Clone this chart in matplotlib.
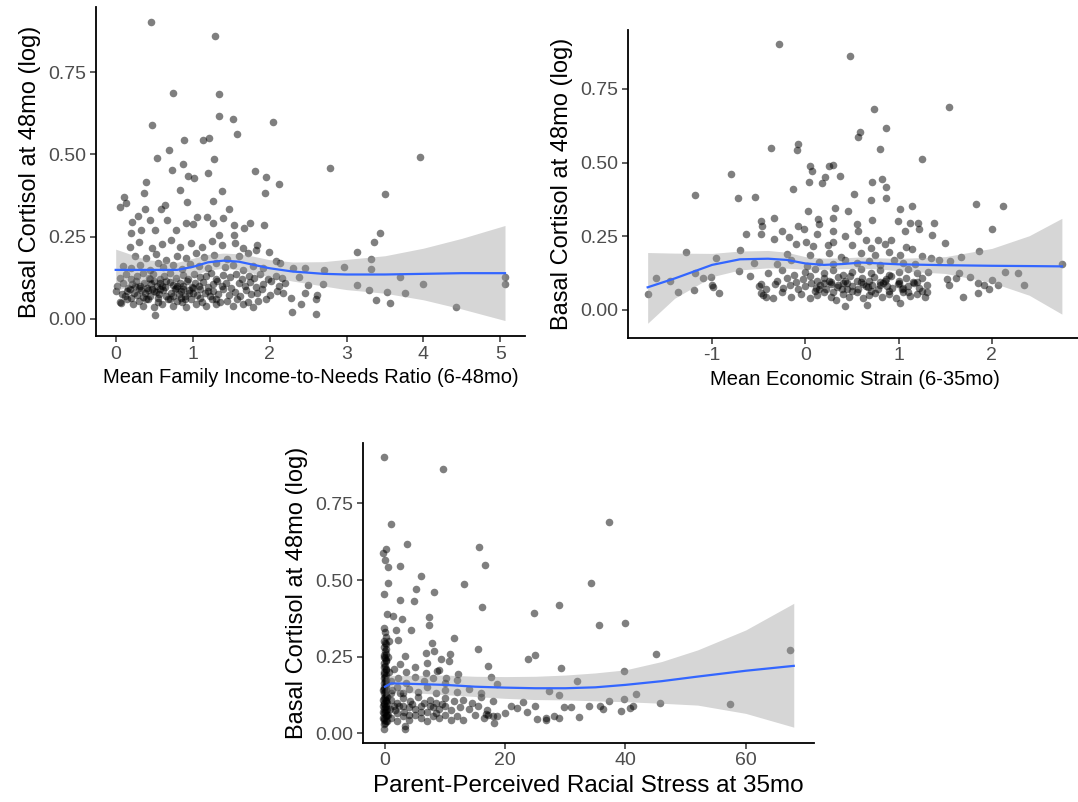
import matplotlib
matplotlib.use("Agg")
import matplotlib.pyplot as plt
import numpy as np

plt.rcParams["font.family"] = ["Liberation Sans", "DejaVu Sans"]
plt.rcParams["axes.unicode_minus"] = False

YLABEL = "Basal Cortisol at 48mo (log)"
Y_TICKS = [0.0, 0.25, 0.5, 0.75]
Y_TICK_LABELS = ["0.00", "0.25", "0.50", "0.75"]

# ---- panel 1: income-to-needs ----
income_label = "Mean Family Income-to-Needs Ratio (6-48mo)"
income_ticks = [0, 1, 2, 3, 4, 5]
income_pts = [
    (0.46, 0.902), (1.29, 0.861), (0.75, 0.688), (1.34, 0.683), (1.34, 0.618), (1.52, 0.607),
    (2.04, 0.600), (0.47, 0.588), (1.58, 0.563), (1.21, 0.550), (1.13, 0.543), (0.89, 0.544),
    (3.95, 0.491), (1.28, 0.485), (0.54, 0.489), (0.69, 0.513), (0.88, 0.470), (0.73, 0.454),
    (1.20, 0.445), (0.94, 0.433), (1.02, 0.429), (1.81, 0.450), (1.95, 0.432), (2.79, 0.460),
    (2.12, 0.411), (0.39, 0.415), (0.37, 0.382), (0.83, 0.393), (1.38, 0.389), (1.94, 0.383),
    (3.50, 0.379), (0.11, 0.370), (0.13, 0.353), (0.06, 0.341), (0.93, 0.354), (1.26, 0.358),
    (0.38, 0.334), (0.64, 0.345), (0.59, 0.333), (1.47, 0.335), (0.29, 0.312), (1.06, 0.310),
    (1.19, 0.310), (0.67, 0.301), (0.45, 0.300), (0.21, 0.294), (0.91, 0.291), (1.00, 0.288),
    (1.26, 0.293), (1.39, 0.306), (1.54, 0.284), (1.74, 0.292), (1.93, 0.284), (1.67, 0.275),
    (3.44, 0.261), (0.20, 0.260), (0.33, 0.271), (0.51, 0.271), (0.79, 0.270), (1.34, 0.255),
    (1.54, 0.256), (3.36, 0.234), (3.13, 0.203), (3.32, 0.183), (3.32, 0.153), (2.97, 0.159),
    (2.71, 0.150), (3.70, 0.127), (3.13, 0.104), (2.70, 0.106), (4.00, 0.106), (3.29, 0.088),
    (3.53, 0.082), (3.76, 0.079), (3.38, 0.057), (3.56, 0.048), (4.42, 0.035), (5.06, 0.126),
    (5.06, 0.107), (2.46, 0.156), (2.31, 0.156), (2.38, 0.128), (2.50, 0.103), (2.46, 0.080),
    (2.28, 0.065), (2.41, 0.046), (2.29, 0.022), (2.60, 0.014), (2.62, 0.073), (2.60, 0.059),
    (0.51, 0.011), (0.07, 0.049), (1.99, 0.202), (1.84, 0.224), (1.83, 0.209), (2.08, 0.176),
    (2.14, 0.169),
    (0.05, 0.05), (0.15, 0.06), (0.22, 0.045), (0.30, 0.055), (0.36, 0.04), (0.42, 0.06),
    (0.50, 0.035), (0.55, 0.05), (0.60, 0.045), (0.68, 0.06), (0.74, 0.04), (0.80, 0.055),
    (0.86, 0.05), (0.92, 0.035), (0.98, 0.06), (1.05, 0.045), (1.12, 0.05), (1.18, 0.04),
    (1.25, 0.06), (1.30, 0.045), (1.36, 0.05), (1.45, 0.055), (1.52, 0.04), (1.58, 0.06),
    (1.65, 0.045), (1.72, 0.05), (1.78, 0.035), (1.85, 0.055), (1.95, 0.06),
    (0.00, 0.085), (0.08, 0.075), (0.12, 0.07), (0.18, 0.09), (0.24, 0.08), (0.28, 0.072),
    (0.33, 0.088), (0.38, 0.078), (0.44, 0.07), (0.47, 0.09), (0.52, 0.082), (0.56, 0.075),
    (0.62, 0.088), (0.66, 0.07), (0.72, 0.08), (0.77, 0.09), (0.82, 0.075), (0.85, 0.085),
    (0.90, 0.07), (0.95, 0.088), (1.00, 0.078), (1.06, 0.072), (1.10, 0.09), (1.16, 0.08),
    (1.22, 0.07), (1.27, 0.085), (1.33, 0.077), (1.40, 0.09), (1.47, 0.072), (1.55, 0.082),
    (1.62, 0.07), (1.70, 0.088), (1.76, 0.075), (1.84, 0.08), (1.90, 0.09), (2.00, 0.072),
    (2.10, 0.085), (2.18, 0.078),
    (0.02, 0.10), (0.10, 0.11), (0.16, 0.095), (0.21, 0.105), (0.27, 0.115), (0.31, 0.10),
    (0.37, 0.11), (0.41, 0.095), (0.46, 0.105), (0.50, 0.115), (0.54, 0.10), (0.58, 0.108),
    (0.64, 0.097), (0.70, 0.112), (0.75, 0.102), (0.79, 0.095), (0.84, 0.11), (0.88, 0.10),
    (0.93, 0.115), (0.99, 0.098), (1.03, 0.108), (1.08, 0.10), (1.14, 0.112), (1.20, 0.096),
    (1.26, 0.105), (1.32, 0.115), (1.38, 0.10), (1.44, 0.108), (1.50, 0.095), (1.60, 0.11),
    (1.68, 0.10), (1.74, 0.112), (1.82, 0.098), (1.92, 0.106), (2.02, 0.114), (2.12, 0.10),
    (2.20, 0.108),
    (0.05, 0.125), (0.13, 0.135), (0.20, 0.12), (0.28, 0.13), (0.35, 0.14), (0.43, 0.125),
    (0.49, 0.135), (0.57, 0.12), (0.63, 0.13), (0.71, 0.14), (0.78, 0.125), (0.87, 0.132),
    (0.94, 0.12), (1.02, 0.138), (1.10, 0.126), (1.17, 0.13), (1.24, 0.14), (1.31, 0.122),
    (1.40, 0.134), (1.48, 0.126), (1.56, 0.138), (1.64, 0.12), (1.73, 0.13), (1.80, 0.125),
    (1.88, 0.136), (1.98, 0.12), (2.08, 0.13), (2.16, 0.124),
    (0.10, 0.16), (0.20, 0.155), (0.32, 0.165), (0.44, 0.15), (0.55, 0.17), (0.62, 0.158),
    (0.75, 0.165), (0.86, 0.152), (0.97, 0.168), (1.08, 0.16), (1.20, 0.155), (1.30, 0.17),
    (1.42, 0.158), (1.53, 0.165), (1.65, 0.15), (1.78, 0.162), (1.92, 0.156),
    (0.25, 0.19), (0.40, 0.185), (0.53, 0.198), (0.65, 0.18), (0.80, 0.192), (0.92, 0.185),
    (1.05, 0.20), (1.15, 0.188), (1.28, 0.195), (1.45, 0.182), (1.60, 0.19), (1.72, 0.20),
    (0.18, 0.22), (0.30, 0.235), (0.47, 0.215), (0.60, 0.228), (0.72, 0.24), (0.84, 0.22),
    (0.98, 0.232), (1.12, 0.218), (1.25, 0.236), (1.38, 0.225), (1.55, 0.23), (1.66, 0.215),
    (0.20, 0.065), (0.30, 0.095), (0.40, 0.062), (0.50, 0.085), (0.55, 0.065), (0.60, 0.10),
    (0.70, 0.06), (0.80, 0.10), (0.90, 0.062), (0.95, 0.08), (0.45, 0.12), (0.25, 0.10),
    (0.35, 0.068), (0.65, 0.115), (0.85, 0.065), (1.00, 0.095), (1.10, 0.065), (1.20, 0.085),
    (1.30, 0.062), (0.15, 0.085), (0.42, 0.088), (0.58, 0.09), (0.75, 0.07), (0.88, 0.092),
]
income_fit_x = [0.0, 0.4, 0.8, 1.0, 1.2, 1.4, 1.6, 1.8, 2.0, 2.3, 2.7, 3.0, 3.5, 4.0, 4.5, 5.06]
income_fit_y = [0.149, 0.149, 0.149, 0.158, 0.172, 0.177, 0.174, 0.164, 0.154, 0.144, 0.137, 0.135, 0.135, 0.137, 0.139, 0.139]
income_fit_lo = [0.085, 0.118, 0.126, 0.132, 0.148, 0.154, 0.150, 0.138, 0.128, 0.115, 0.100, 0.089, 0.078, 0.058, 0.030, -0.005]
income_fit_hi = [0.212, 0.180, 0.172, 0.184, 0.196, 0.200, 0.198, 0.190, 0.180, 0.173, 0.174, 0.181, 0.192, 0.215, 0.245, 0.284]

# ---- panel 2: economic strain ----
strain_label = "Mean Economic Strain (6-35mo)"
strain_ticks = [-1, 0, 1, 2]
strain_pts = [
    (-0.28, 0.904), (0.48, 0.862), (0.74, 0.683), (1.54, 0.689), (0.86, 0.619), (0.59, 0.605),
    (0.56, 0.588), (-0.08, 0.564), (-0.09, 0.544), (-0.37, 0.551), (0.80, 0.545), (1.25, 0.514),
    (0.05, 0.488), (0.07, 0.472), (0.25, 0.490), (0.30, 0.491), (-0.80, 0.460), (0.37, 0.456),
    (0.21, 0.451), (0.18, 0.431), (0.04, 0.433), (0.71, 0.434), (0.82, 0.445), (0.86, 0.416),
    (-0.13, 0.412), (-1.18, 0.391), (-0.54, 0.383), (-0.72, 0.379), (0.52, 0.394), (0.86, 0.381),
    (0.70, 0.372), (1.83, 0.360), (2.12, 0.354), (1.14, 0.353), (1.01, 0.342), (0.32, 0.345),
    (0.46, 0.335), (0.03, 0.336), (-0.34, 0.311), (-0.47, 0.303), (0.30, 0.313), (0.14, 0.310),
    (0.72, 0.307), (0.99, 0.303), (1.12, 0.296), (1.38, 0.294), (1.21, 0.294), (0.55, 0.291),
    (-0.46, 0.285), (0.15, 0.292), (-0.08, 0.284), (-0.01, 0.274), (1.22, 0.275), (2.00, 0.276),
    (1.07, 0.268), (0.30, 0.268), (-0.25, 0.268), (-0.64, 0.258), (-0.47, 0.257), (0.13, 0.257),
    (1.36, 0.255), (0.43, 0.252), (-0.18, 0.249), (0.56, 0.269), (-0.34, 0.242), (0.78, 0.238),
    (0.92, 0.238), (1.50, 0.227), (0.01, 0.231), (0.24, 0.222), (0.70, 0.210), (1.14, 0.206),
    (-1.28, 0.198), (1.86, 0.201), (-0.70, 0.204), (1.67, 0.180), (-0.96, 0.175), (1.35, 0.178),
    (1.55, 0.167), (1.43, 0.170), (2.14, 0.130), (2.28, 0.127), (2.75, 0.156), (2.00, 0.102),
    (1.92, 0.085), (2.34, 0.085), (2.06, 0.085), (1.85, 0.090), (1.97, 0.071), (1.85, 0.059),
    (1.69, 0.045), (1.54, 0.085), (1.52, 0.104), (1.65, 0.127), (1.76, 0.111), (1.61, 0.107),
    (-1.60, 0.107), (-1.69, 0.054), (-1.45, 0.098), (-1.36, 0.062), (-1.19, 0.068), (-1.18, 0.124),
    (-1.10, 0.107), (-1.01, 0.111), (-1.00, 0.085), (-0.93, 0.057), (-0.99, 0.079), (-0.71, 0.132),
    (-0.59, 0.115), (-0.48, 0.088), (-0.48, 0.057), (-0.42, 0.043), (0.66, 0.016), (0.42, 0.014),
    (1.01, 0.025),
    (-0.45, 0.05), (-0.35, 0.04), (-0.25, 0.06), (-0.15, 0.045), (-0.05, 0.055), (0.05, 0.04),
    (0.12, 0.05), (0.20, 0.06), (0.27, 0.045), (0.33, 0.035), (0.40, 0.055), (0.47, 0.045),
    (0.55, 0.06), (0.62, 0.04), (0.68, 0.05), (0.75, 0.058), (0.82, 0.045), (0.90, 0.055),
    (0.97, 0.04), (1.05, 0.06), (1.12, 0.048), (1.20, 0.055), (1.28, 0.045), (1.30, 0.06),
    (-0.50, 0.08), (-0.42, 0.072), (-0.33, 0.088), (-0.24, 0.075), (-0.16, 0.085), (-0.08, 0.07),
    (0.00, 0.082), (0.06, 0.09), (0.11, 0.075), (0.16, 0.085), (0.22, 0.07), (0.28, 0.088),
    (0.34, 0.078), (0.39, 0.07), (0.45, 0.09), (0.50, 0.08), (0.56, 0.072), (0.62, 0.088),
    (0.67, 0.078), (0.72, 0.085), (0.78, 0.07), (0.83, 0.09), (0.88, 0.08), (0.93, 0.075),
    (0.99, 0.088), (1.04, 0.07), (1.10, 0.082), (1.16, 0.09), (1.22, 0.075), (1.30, 0.085),
    (-0.30, 0.10), (-0.20, 0.11), (-0.10, 0.095), (-0.02, 0.105), (0.05, 0.115), (0.13, 0.10),
    (0.20, 0.108), (0.27, 0.095), (0.35, 0.112), (0.42, 0.10), (0.48, 0.115), (0.55, 0.098),
    (0.61, 0.108), (0.68, 0.10), (0.74, 0.112), (0.80, 0.095), (0.86, 0.105), (0.92, 0.115),
    (1.00, 0.10), (1.08, 0.108), (1.15, 0.096), (1.25, 0.11),
    (-0.40, 0.125), (-0.25, 0.135), (-0.12, 0.12), (0.00, 0.13), (0.10, 0.14), (0.20, 0.125),
    (0.30, 0.135), (0.40, 0.12), (0.50, 0.13), (0.60, 0.14), (0.70, 0.125), (0.80, 0.135),
    (0.90, 0.12), (1.00, 0.13), (1.10, 0.138), (1.20, 0.125), (1.32, 0.13),
    (-0.55, 0.16), (-0.30, 0.155), (-0.15, 0.168), (0.02, 0.15), (0.15, 0.162), (0.30, 0.155),
    (0.42, 0.17), (0.55, 0.158), (0.68, 0.165), (0.80, 0.152), (0.95, 0.168), (1.05, 0.16),
    (1.18, 0.155),
    (-0.20, 0.19), (0.05, 0.185), (0.25, 0.195), (0.38, 0.18), (0.60, 0.192), (0.75, 0.185),
    (0.90, 0.198), (1.02, 0.188), (1.25, 0.182),
    (-0.10, 0.225), (0.08, 0.218), (0.30, 0.232), (0.50, 0.22), (0.65, 0.236), (0.85, 0.225),
    (1.08, 0.215),
    (0.10, 0.065), (0.20, 0.09), (0.30, 0.062), (0.40, 0.09), (0.50, 0.065), (0.60, 0.095),
    (0.70, 0.065), (0.80, 0.085), (0.90, 0.065), (1.00, 0.09), (1.10, 0.062), (1.20, 0.095),
    (0.25, 0.10), (0.45, 0.072), (0.65, 0.08), (0.85, 0.10), (1.05, 0.075), (1.25, 0.065),
    (0.15, 0.07), (0.35, 0.085),
]
strain_fit_x = [-1.69, -1.4, -1.0, -0.7, -0.4, -0.2, 0.0, 0.2, 0.4, 0.6, 0.8, 1.0, 1.5, 2.0, 2.4, 2.75]
strain_fit_y = [0.077, 0.107, 0.153, 0.172, 0.174, 0.170, 0.158, 0.153, 0.156, 0.161, 0.158, 0.155, 0.152, 0.150, 0.149, 0.148]
strain_fit_lo = [-0.045, 0.040, 0.113, 0.136, 0.143, 0.142, 0.138, 0.138, 0.140, 0.142, 0.139, 0.133, 0.124, 0.093, 0.050, -0.014]
strain_fit_hi = [0.195, 0.193, 0.192, 0.200, 0.202, 0.196, 0.181, 0.176, 0.177, 0.180, 0.177, 0.175, 0.181, 0.209, 0.252, 0.311]

# ---- panel 3: racial stress ----
stress_label = "Parent-Perceived Racial Stress at 35mo"
stress_ticks = [0, 20, 40, 60]
stress_pts = [
    (-0.1, 0.902), (9.7, 0.861), (0.95, 0.684), (37.3, 0.688), (3.7, 0.618), (15.7, 0.607),
    (0.2, 0.600), (-0.3, 0.587), (0.0, 0.564), (0.5, 0.543), (2.5, 0.545), (16.7, 0.550),
    (6.0, 0.513), (13.2, 0.487), (34.2, 0.491), (0.5, 0.489), (5.2, 0.472), (-0.1, 0.455),
    (8.1, 0.461), (2.5, 0.434), (4.8, 0.430), (16.2, 0.413), (29.0, 0.417), (24.8, 0.393),
    (0.3, 0.389), (1.4, 0.384), (7.3, 0.379), (2.8, 0.372), (40.0, 0.359), (35.6, 0.354),
    (7.4, 0.353), (4.4, 0.336), (1.9, 0.337), (11.4, 0.312), (2.2, 0.305), (7.8, 0.293),
    (15.4, 0.276), (67.3, 0.273), (6.9, 0.263), (8.2, 0.268), (25.0, 0.257), (10.8, 0.259),
    (45.0, 0.260), (3.3, 0.252), (23.8, 0.242), (9.3, 0.241), (10.7, 0.236), (17.2, 0.221),
    (29.3, 0.213), (39.7, 0.204), (8.7, 0.203), (6.8, 0.196), (12.2, 0.192), (17.6, 0.183),
    (31.9, 0.172), (10.1, 0.182), (18.7, 0.160), (41.8, 0.127), (27.2, 0.138), (29.0, 0.126),
    (45.7, 0.100), (39.7, 0.112), (37.2, 0.104), (57.4, 0.096), (33.9, 0.090), (35.7, 0.090),
    (36.3, 0.080), (41.3, 0.090), (40.8, 0.084), (39.3, 0.074), (31.0, 0.086), (29.7, 0.086),
    (32.2, 0.052), (28.1, 0.057), (28.9, 0.049), (25.3, 0.046), (26.7, 0.051), (26.8, 0.043),
    (25.0, 0.090), (23.0, 0.101), (23.6, 0.071), (22.0, 0.084), (21.0, 0.090), (19.9, 0.066),
    (18.2, 0.035), (18.7, 0.057), (16.8, 0.063), (17.1, 0.060), (-0.2, 0.013), (3.4, 0.023),
    (3.4, 0.015),
    (-0.2, 0.03), (0.1, 0.04), (-0.1, 0.05), (0.2, 0.06), (0.0, 0.07), (-0.2, 0.08), (0.1, 0.09),
    (-0.1, 0.10), (0.2, 0.11), (0.0, 0.12), (-0.2, 0.13), (0.1, 0.14), (-0.1, 0.15), (0.2, 0.16),
    (0.0, 0.17), (-0.2, 0.18), (0.1, 0.19), (-0.1, 0.20), (0.2, 0.21), (0.0, 0.22), (-0.2, 0.23),
    (0.1, 0.24), (-0.1, 0.25), (0.2, 0.26), (0.0, 0.27), (-0.2, 0.28), (0.1, 0.29), (-0.1, 0.30),
    (0.2, 0.315), (0.0, 0.33), (-0.1, 0.345),
    (0.0, 0.035), (-0.1, 0.045), (0.1, 0.055), (-0.2, 0.065), (0.2, 0.075), (0.0, 0.085),
    (-0.1, 0.095), (0.1, 0.105), (-0.2, 0.115), (0.2, 0.125), (0.0, 0.135), (-0.1, 0.145),
    (0.1, 0.155), (-0.2, 0.165), (0.2, 0.175), (0.0, 0.185), (-0.1, 0.195), (0.1, 0.205),
    (-0.2, 0.215), (0.2, 0.235), (0.0, 0.245), (-0.1, 0.255), (0.1, 0.275), (0.0, 0.295),
    (0.3, 0.04), (0.3, 0.06), (0.3, 0.08), (0.3, 0.10), (0.3, 0.12), (-0.3, 0.05), (-0.3, 0.07),
    (-0.3, 0.09), (-0.3, 0.11), (-0.3, 0.14),
    (1, 0.05), (2, 0.04), (3, 0.055), (4, 0.045), (5, 0.06), (6, 0.05), (7, 0.04), (8, 0.055),
    (9, 0.05), (10, 0.06), (11, 0.045), (12, 0.055), (13, 0.045), (15, 0.06), (16.5, 0.05), (18, 0.058),
    (0.8, 0.08), (1.6, 0.075), (2.4, 0.09), (3.2, 0.07), (4, 0.085), (5, 0.078), (6, 0.09), (7, 0.07),
    (8, 0.085), (9, 0.08), (10, 0.09), (11, 0.075), (12.5, 0.085), (14, 0.08), (15.5, 0.09), (17, 0.075),
    (1, 0.11), (2, 0.10), (3, 0.115), (4.2, 0.105), (5.5, 0.12), (6.5, 0.10), (7.5, 0.11), (8.5, 0.10),
    (10, 0.115), (11.5, 0.105), (13, 0.11), (14.5, 0.10), (16, 0.12), (18, 0.105),
    (1.2, 0.14), (2.5, 0.13), (4, 0.145), (5.5, 0.135), (7, 0.15), (8.5, 0.13), (10, 0.14), (12, 0.135),
    (14, 0.145), (16, 0.13),
    (1, 0.17), (2.2, 0.18), (3.5, 0.165), (5, 0.185), (6.5, 0.17), (8, 0.18), (10, 0.165), (12, 0.175),
    (1.5, 0.21), (2.5, 0.225), (3.5, 0.20), (5, 0.215), (7, 0.23), (9, 0.205),
    (0.5, 0.06), (1.5, 0.09), (2, 0.065), (3, 0.09), (4, 0.06), (4.5, 0.095), (6, 0.07), (7.5, 0.09),
    (8.5, 0.065), (9.5, 0.095), (1, 0.13), (2, 0.15), (3, 0.13), (0.6, 0.20), (0.5, 0.25), (0.6, 0.30),
]
stress_fit_x = [0, 1, 5, 10, 15, 20, 25, 30, 35, 40, 46, 52, 60, 68]
stress_fit_y = [0.152, 0.163, 0.161, 0.158, 0.152, 0.149, 0.147, 0.147, 0.150, 0.158, 0.170, 0.185, 0.204, 0.220]
stress_fit_lo = [0.120, 0.135, 0.132, 0.126, 0.120, 0.114, 0.110, 0.109, 0.106, 0.103, 0.098, 0.092, 0.065, 0.020]
stress_fit_hi = [0.185, 0.188, 0.189, 0.190, 0.186, 0.185, 0.186, 0.190, 0.197, 0.207, 0.234, 0.272, 0.337, 0.424]


W, H = 1078, 802


def panel(fig, box_px, xlim, ylim, pts, ticks, xlabel, fit, xlabel_size):
    left, top, right, bottom = box_px
    ax = fig.add_axes([left / W, 1 - bottom / H, (right - left) / W, (bottom - top) / H])
    ax.set_xlim(*xlim)
    ax.set_ylim(*ylim)
    pts = np.array(pts)
    ax.scatter(pts[:, 0], pts[:, 1], s=30, color="black", alpha=0.5, linewidths=0, zorder=2)
    fx, fy, lo, hi = fit
    ax.fill_between(fx, lo, hi, color="#999999", alpha=0.4, linewidth=0, zorder=3)
    ax.plot(fx, fy, color="#3366FF", linewidth=1.6, zorder=4)
    for s in ["top", "right"]:
        ax.spines[s].set_visible(False)
    for s in ["left", "bottom"]:
        ax.spines[s].set_linewidth(1.3)
    ax.set_xticks(ticks)
    ax.set_yticks(Y_TICKS)
    ax.set_yticklabels(Y_TICK_LABELS)
    ax.tick_params(length=4, width=1.1, color="#333333", labelcolor="#4D4D4D", labelsize=14, pad=3)
    ax.set_xlabel(xlabel, fontsize=xlabel_size, labelpad=4)
    ax.set_ylabel(YLABEL, fontsize=17, labelpad=5)
    return ax


fig = plt.figure(figsize=(W / 100, H / 100), dpi=100)

panel(fig, (96, 7.4, 525, 336), (-0.256, 5.32), (-0.052, 0.947), income_pts, income_ticks,
      income_label, (income_fit_x, income_fit_y, income_fit_lo, income_fit_hi), 14.5)
panel(fig, (627.7, 30, 1082.4, 337.7), (-1.904, 2.97), (-0.094, 0.950), strain_pts, strain_ticks,
      strain_label, (strain_fit_x, strain_fit_y, strain_fit_lo, strain_fit_hi), 14.5)
panel(fig, (362.7, 443, 813.6, 742.5), (-3.71, 71.3), (-0.030, 0.947), stress_pts, stress_ticks,
      stress_label, (stress_fit_x, stress_fit_y, stress_fit_lo, stress_fit_hi), 17.5)

fig.savefig("out.png", dpi=100)
plt.close(fig)
